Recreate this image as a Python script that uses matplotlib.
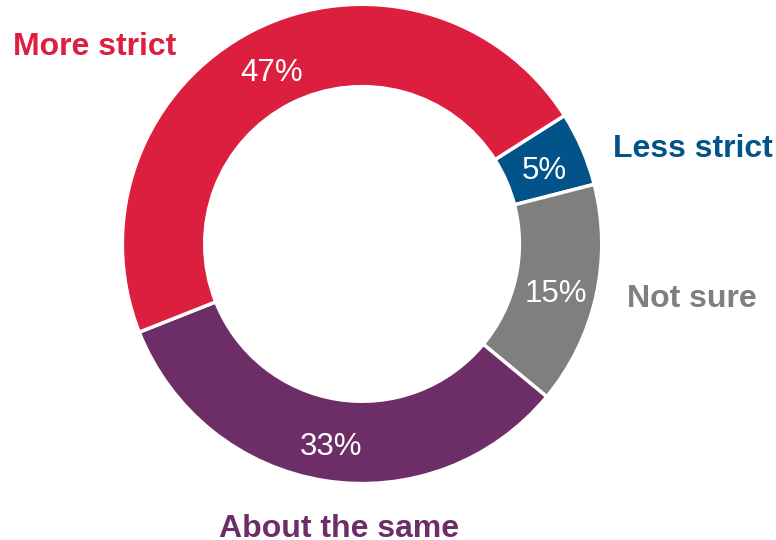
import matplotlib
matplotlib.use('Agg')
import matplotlib.pyplot as plt

#%% Data
categories = ['Less strict', 'Not sure', 'About the same', 'More strict']
shares = [5, 15, 33, 47]
colors = ['#02538A', '#7F7F7F', '#6D2E67', '#DC1F3E']

#%% Layout
plt.rcParams['font.family'] = ['Liberation Sans', 'DejaVu Sans']

fig = plt.figure(figsize=(7.76, 5.40), dpi=100)
ax = fig.add_axes([0, 0, 1, 1])

wedges, texts, autotexts = ax.pie(
    shares,
    colors=colors,
    startangle=32.4,
    counterclock=False,
    radius=1.007,
    autopct=lambda p: '%d%%' % round(p),
    pctdistance=0.83,
    wedgeprops=dict(width=0.346, edgecolor='white', linewidth=2.5),
    textprops=dict(color='white', fontsize=22.5),
)
# put the digits' baseline a bit under the ring middle
for t in autotexts:
    x, y = t.get_position()
    t.set_position((x, y - 0.06))
    t.set_va('baseline')

# outside labels: x = center, y = baseline (pie units)
label_pos = {
    'More strict': (-1.122, 0.794),
    'Less strict': (1.391, 0.366),
    'Not sure': (1.387, -0.265),
    'About the same': (-0.097, -1.231),
}
for name, col in zip(categories, colors):
    x, y = label_pos[name]
    ax.text(x, y, name, color=col, fontsize=23, fontweight='bold',
            ha='center', va='baseline')

ax.set_aspect('auto')
ax.set_xlim(-1.521, 1.739)
ax.set_ylim(-1.244, 1.025)
ax.axis('off')

fig.savefig('out.png', dpi=100)
